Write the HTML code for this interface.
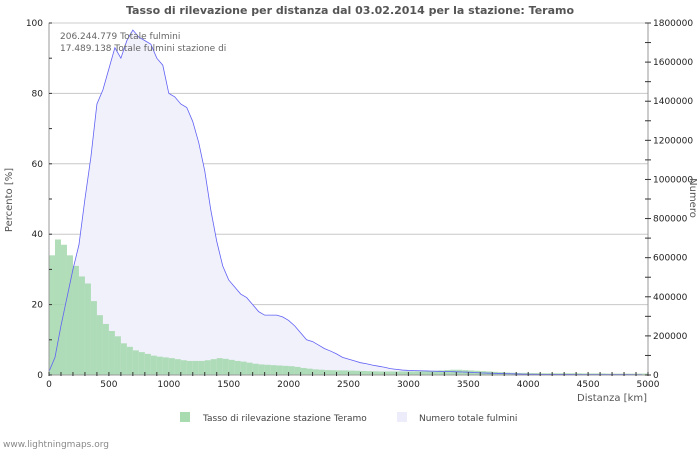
<!DOCTYPE html>
<html><head><meta charset="utf-8"><style>
body{margin:0;background:#fff;width:700px;height:450px;overflow:hidden;font-family:"Liberation Sans","DejaVu Sans",sans-serif}
svg text{font-family:"DejaVu Sans","Liberation Sans",sans-serif}
</style></head><body>
<svg id="c" width="700" height="450"></svg>
<script>
const distances=[];for(let i=0;i<100;i++)distances.push(i*50);
const totalStrikes=[1,5,14,22,30,37,50,62,77,81,87,93,90,95,98,96,95,94,90,88,80,79,77,76,72,66,58,47,38,31,27,25,23,22,20,18,17,17,17,16.5,15.5,14,12,10,9.5,8.5,7.5,6.8,6,5,4.5,4,3.5,3.2,2.8,2.5,2.2,1.8,1.6,1.4,1.3,1.25,1.2,1.15,1.1,1.05,1,0.95,0.9,0.85,0.8,0.7,0.6,0.55,0.5,0.45,0.4,0.35,0.3,0.25,0.2,0.2,0.18,0.18,0.17,0.17,0.16,0.16,0.15,0.15,0.15,0.14,0.14,0.13,0.13,0.12,0.12,0.12,0.11,0.11].map(v=>v*18000);
const detectionRate=[34,38.5,37,34,31,28,26,21,17,14.5,12.5,11,9,8,7,6.5,6,5.5,5.2,5,4.8,4.5,4.2,4,4,4,4.2,4.5,4.8,4.6,4.3,4,3.8,3.5,3.2,3,2.9,2.8,2.7,2.6,2.5,2.3,2,1.8,1.6,1.5,1.4,1.35,1.3,1.3,1.25,1.2,1.15,1.1,1.05,1,1,1,1,1,1,1.05,1.1,1.15,1.2,1.3,1.4,1.5,1.5,1.4,1.3,1.2,1.1,1,0.9,0.8,0.7,0.65,0.6,0.6,0.55,0.55,0.5,0.5,0.5,0.5,0.5,0.5,0.5,0.45,0.45,0.45,0.45,0.4,0.4,0.4,0.4,0.4,0.4,0.4];
const leftTicks=[0,20,40,60,80,100];
const rightTicks=[0,200000,400000,600000,800000,1000000,1200000,1400000,1600000,1800000];
const xTicks=[0,500,1000,1500,2000,2500,3000,3500,4000,4500,5000];
const X0=49,X1=648,Y0=375,Y1=23;
const xs=km=>X0+km/5000*(X1-X0);
const yl=p=>Y0-p/100*(Y0-Y1);
const yr=n=>Y0-n/1800000*(Y0-Y1);
const svg=document.getElementById('c');const NS='http://www.w3.org/2000/svg';
function el(t,a,txt){const e=document.createElementNS(NS,t);for(const k in a)e.setAttribute(k,a[k]);if(txt!=null)e.textContent=txt;svg.appendChild(e);return e;}
let e;
e=el('rect',{x:X0,y:Y1,width:X1-X0,height:Y0-Y1,fill:'#fff',stroke:'#ccc'});


leftTicks.forEach(t=>{if(t>0&&t<100){e=el('line',{x1:X0,x2:X1,y1:yl(t),y2:yl(t),stroke:'#c8c8c8'});

}});
let pts=distances.map((d,i)=>xs(d)+','+yr(totalStrikes[i]));
e=el('polygon',{points:xs(0)+','+Y0+' '+pts.join(' ')+' '+xs(distances[distances.length-1])+','+Y0,fill:'#f1f1fc'});


distances.forEach((d,i)=>{const y=yl(detectionRate[i]);e=el('rect',{x:xs(d),y:y,width:6,height:Y0-y,fill:'#a3d8ab',opacity:0.85});

});
e=el('polyline',{points:pts.join(' '),fill:'none',stroke:'#6060f5','stroke-width':0.8});


e=el('line',{x1:X0,x2:X0,y1:Y1,y2:Y0,stroke:'#999'});


e=el('line',{x1:X1,x2:X1,y1:Y1,y2:Y0,stroke:'#999'});


e=el('line',{x1:X0,x2:X1,y1:Y0,y2:Y0,stroke:'#999'});


for(let p=0;p<=100;p+=10){el('line',{x1:X0,x2:X0+3,y1:yl(p),y2:yl(p),stroke:'#333'});}
leftTicks.forEach(t=>{e=el('text',{x:43,y:yl(t)+3,'font-size':9,'text-anchor':'end',fill:'#222'},t);

});
for(let n=0;n<=1800000;n+=100000){el('line',{x1:X1-3,x2:X1+3,y1:yr(n),y2:yr(n),stroke:'#333'});}
rightTicks.forEach(t=>{e=el('text',{x:X1+5,y:yr(t)+3,'font-size':9,fill:'#222'},t);

});
for(let k=0;k<=5000;k+=100){el('line',{x1:xs(k),x2:xs(k),y1:Y0-3,y2:Y0+1,stroke:'#333'});}
xTicks.forEach(t=>{e=el('text',{x:xs(t),y:387,'font-size':9,'text-anchor':'middle',fill:'#222'},t);

});
e=el('text',{x:350,y:14,'font-size':11,'font-weight':'bold','text-anchor':'middle',fill:'#555'},'Tasso di rilevazione per distanza dal 03.02.2014 per la stazione: Teramo');


e=el('text',{x:60,y:39,'font-size':9,fill:'#666'},'206.244.779 Totale fulmini');


e=el('text',{x:60,y:51,'font-size':9,fill:'#666'},'17.489.138 Totale fulmini stazione di');


e=el('text',{x:12,y:200,'font-size':10,fill:'#555','text-anchor':'middle',transform:'rotate(-90 12 200)'},'Percento   [%]');


e=el('text',{x:690,y:198,'font-size':10,fill:'#555','text-anchor':'middle',transform:'rotate(90 690 198)'},'Numero');


e=el('text',{x:647,y:401,'font-size':10,fill:'#555','text-anchor':'end'},'Distanza   [km]');


e=el('rect',{x:180,y:412,width:10,height:10,fill:'#a8dcb0'});


e=el('text',{x:203,y:421,'font-size':9,fill:'#444'},'Tasso di rilevazione stazione Teramo');


e=el('rect',{x:397,y:412,width:10,height:10,fill:'#ececfb'});


e=el('text',{x:419,y:421,'font-size':9,fill:'#444'},'Numero totale fulmini');


e=el('text',{x:3,y:447,'font-size':9,fill:'#888'},'www.lightningmaps.org');


</script>
</body></html>
